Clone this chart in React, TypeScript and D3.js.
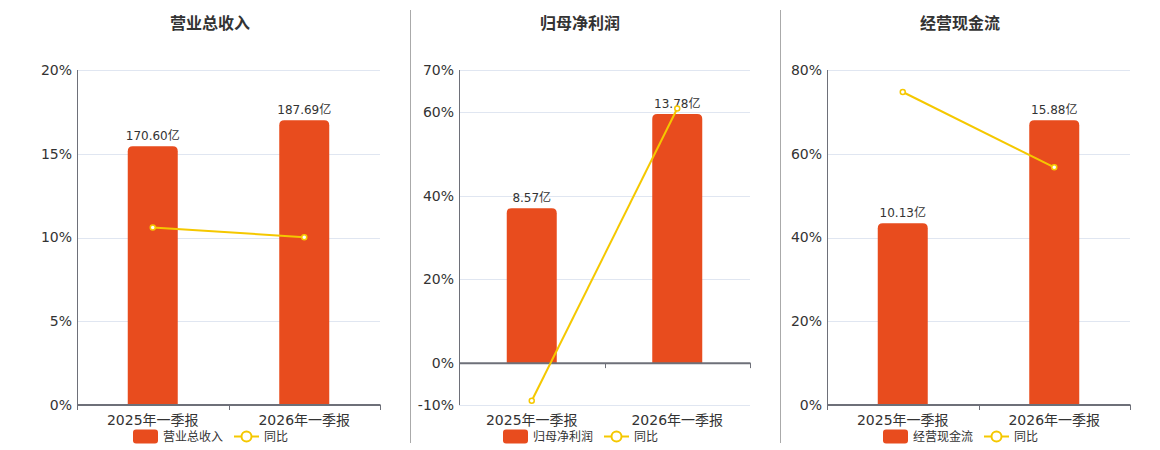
import { useEffect, useRef } from 'react';
import * as d3 from 'd3';

const categories = ['2025年一季报', '2026年一季报'];
const titles = ['营业总收入', '归母净利润', '经营现金流'];
const barValues = [
    [170.60, 187.69],
    [8.57, 13.78],
    [10.13, 15.88],
];
const yoyValues = [
    [10.6, 10.02],
    [-9.0, 60.79],
    [74.75, 56.76],
];
const yTicks = [
    [0, 5, 10, 15, 20],
    [-10, 0, 20, 40, 60, 70],
    [0, 20, 40, 60, 80],
];
const lineName = '同比';

const BAR_COLOR = '#e84c1e';
const LINE_COLOR = '#f5c800';
const AXIS_COLOR = '#6e7079';
const GRID_COLOR = '#e0e6f1';
const TEXT_COLOR = '#333';
const FONT = '"DejaVu Sans", "Noto Sans CJK SC", sans-serif';

// per-panel placement
const panels = [
    { left: 77, right: 380, titleX: 210, sep: null as number | null },
    { left: 459, right: 750, titleX: 580, sep: 410.5 },
    { left: 827, right: 1130, titleX: 960, sep: 780.5 },
];
const TOP = 70;
const BOTTOM = 405;

function topRoundedRect(x: number, y: number, w: number, h: number, r: number) {
    const rr = Math.min(r, h, w / 2);
    return `M${x},${y + h}V${y + rr}Q${x},${y} ${x + rr},${y}H${x + w - rr}Q${x + w},${y} ${x + w},${y + rr}V${y + h}Z`;
}

export default function App() {
    const ref = useRef<SVGSVGElement>(null);

    useEffect(() => {
        if (!ref.current) return;
        const svg = d3.select(ref.current);
        svg.selectAll('*').remove();
        svg.attr('font-family', FONT);

        panels.forEach((p, i) => {
            const g = svg.append('g');
            const ticks = yTicks[i];
            const y = d3.scaleLinear()
                .domain([ticks[0], ticks[ticks.length - 1]])
                .range([BOTTOM, TOP]);
            const zeroY = y(0);
            const maxBar = d3.max(barValues[i]) as number;
            const yBar = d3.scaleLinear().domain([0, maxBar / 0.85]).range([zeroY, TOP]);
            const x = d3.scaleBand<string>().domain(categories).range([p.left, p.right]);
            const barW = 50;

            if (p.sep !== null) {
                g.append('line')
                    .attr('x1', p.sep).attr('x2', p.sep)
                    .attr('y1', 10).attr('y2', 443)
                    .attr('stroke', '#aaa').attr('stroke-width', 1);
            }

            g.append('text')
                .attr('x', p.titleX).attr('y', 29)
                .attr('text-anchor', 'middle')
                .attr('font-size', 16).attr('font-weight', 'bold')
                .attr('fill', TEXT_COLOR)
                .text(titles[i]);

            // grid
            g.selectAll('.grid')
                .data(ticks.filter(t => t !== 0))
                .enter().append('line')
                .attr('x1', p.left).attr('x2', p.right)
                .attr('y1', d => Math.round(y(d)) + 0.5).attr('y2', d => Math.round(y(d)) + 0.5)
                .attr('stroke', GRID_COLOR).attr('stroke-width', 1);

            // y labels
            g.selectAll('.ylab')
                .data(ticks)
                .enter().append('text')
                .attr('x', p.left - 5).attr('y', d => y(d))
                .attr('dy', '0.35em')
                .attr('text-anchor', 'end')
                .attr('font-size', 14)
                .attr('fill', TEXT_COLOR)
                .text(d => `${d}%`);

            // bars
            g.selectAll('.bar')
                .data(barValues[i])
                .enter().append('path')
                .attr('d', (d, j) => {
                    const cx = (x(categories[j]) as number) + x.bandwidth() / 2;
                    const top = yBar(d);
                    return topRoundedRect(cx - barW / 2, top, barW, zeroY - top, 5);
                })
                .attr('fill', BAR_COLOR);

            g.selectAll('.blab')
                .data(barValues[i])
                .enter().append('text')
                .attr('x', (_, j) => (x(categories[j]) as number) + x.bandwidth() / 2)
                .attr('y', d => yBar(d) - 6)
                .attr('text-anchor', 'middle')
                .attr('font-size', 12)
                .attr('fill', TEXT_COLOR)
                .text(d => `${d.toFixed(2)}亿`);

            // axes
            g.append('line')
                .attr('x1', p.left + 0.5).attr('x2', p.left + 0.5)
                .attr('y1', TOP).attr('y2', BOTTOM)
                .attr('stroke', AXIS_COLOR).attr('stroke-width', 1);
            g.append('line')
                .attr('x1', p.left).attr('x2', p.right + 0.5)
                .attr('y1', zeroY).attr('y2', zeroY)
                .attr('stroke', AXIS_COLOR).attr('stroke-width', 2);
            const tickXs = [p.left, ...categories.map(c => (x(c) as number) + x.bandwidth())];
            g.selectAll('.xtick')
                .data(tickXs)
                .enter().append('line')
                .attr('x1', d => Math.round(d) + 0.5).attr('x2', d => Math.round(d) + 0.5)
                .attr('y1', zeroY).attr('y2', zeroY + 5)
                .attr('stroke', AXIS_COLOR).attr('stroke-width', 1);

            g.selectAll('.xlab')
                .data(categories)
                .enter().append('text')
                .attr('x', d => (x(d) as number) + x.bandwidth() / 2)
                .attr('y', 420).attr('dy', '0.35em')
                .attr('text-anchor', 'middle')
                .attr('font-size', 14)
                .attr('fill', TEXT_COLOR)
                .text(d => d);

            // yoy line
            const pts = yoyValues[i].map((v, j) => [
                (x(categories[j]) as number) + x.bandwidth() / 2,
                y(v),
            ] as [number, number]);
            g.append('path')
                .attr('d', d3.line()(pts))
                .attr('fill', 'none')
                .attr('stroke', LINE_COLOR)
                .attr('stroke-width', 2);
            g.selectAll('.pt')
                .data(pts)
                .enter().append('circle')
                .attr('cx', d => d[0]).attr('cy', d => d[1])
                .attr('r', 2.5)
                .attr('fill', '#fff')
                .attr('stroke', LINE_COLOR)
                .attr('stroke-width', 1.5);

            // legend
            const lx = p.titleX - 77;
            const ly = 436.5;
            g.append('rect')
                .attr('x', lx).attr('y', ly - 7)
                .attr('width', 25).attr('height', 14)
                .attr('rx', 3)
                .attr('fill', BAR_COLOR);
            g.append('text')
                .attr('x', lx + 30).attr('y', ly).attr('dy', '0.35em')
                .attr('font-size', 12).attr('fill', TEXT_COLOR)
                .text(titles[i]);
            const l2 = lx + 101;
            g.append('line')
                .attr('x1', l2).attr('x2', l2 + 25)
                .attr('y1', ly).attr('y2', ly)
                .attr('stroke', LINE_COLOR).attr('stroke-width', 2);
            g.append('circle')
                .attr('cx', l2 + 12.5).attr('cy', ly).attr('r', 5)
                .attr('fill', '#fff').attr('stroke', LINE_COLOR).attr('stroke-width', 2);
            g.append('text')
                .attr('x', l2 + 30).attr('y', ly).attr('dy', '0.35em')
                .attr('font-size', 12).attr('fill', TEXT_COLOR)
                .text(lineName);
        });
    }, []);

    return (
        <div style={{ position: 'absolute', left: 0, top: 0 }}>
            <svg ref={ref} width={1160} height={450} style={{ display: 'block' }} />
        </div>
    );
}
